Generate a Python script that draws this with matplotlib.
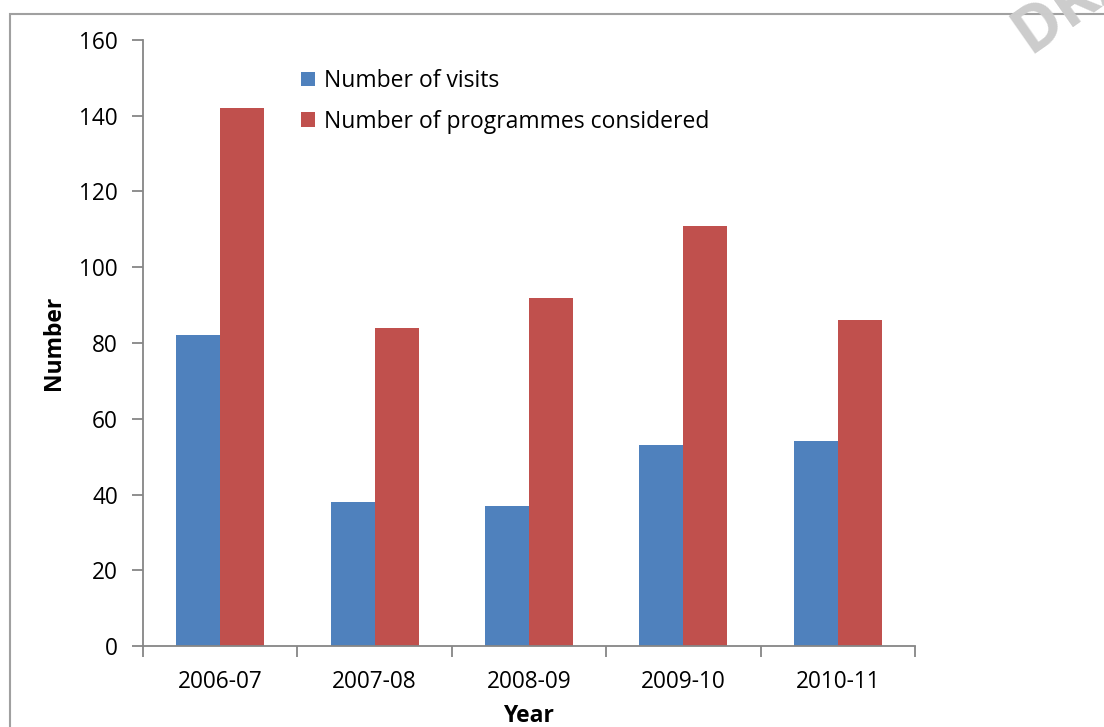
import numpy as np
import matplotlib.pyplot as plt
from matplotlib.patches import Rectangle

# Data
years = ['2006-07', '2007-08', '2008-09', '2009-10', '2010-11']
visits = [82, 38, 37, 53, 54]
programmes = [142, 84, 92, 111, 86]

blue = '#4f81bd'
red = '#c0504d'
grey = '#868686'

plt.rcParams['font.family'] = ['Open Sans', 'DejaVu Sans']

fig = plt.figure(figsize=(11.04, 7.27), dpi=100)
ax = fig.add_axes([0.1295, 0.1114, 0.6993, 0.8336])

x = np.arange(len(years))
w = 0.285
ax.bar(x - w / 2, visits, w, color=blue, label='Number of visits')
ax.bar(x + w / 2, programmes, w, color=red, label='Number of programmes considered')

ax.set_xlim(-0.5, len(years) - 0.5)
ax.set_ylim(0, 160)
ax.set_yticks(range(0, 161, 20))
ax.set_xticks(x)
ax.set_xticklabels(years)
ax.set_xticks(np.arange(-0.5, len(years)), minor=True)
ax.tick_params(axis='x', which='major', length=0, pad=17, labelsize=16.3)
ax.tick_params(axis='x', which='minor', length=8, width=1.3, color=grey)
ax.tick_params(axis='y', length=8, width=1.3, color=grey, pad=10, labelsize=16.3)

for s in ['top', 'right']:
    ax.spines[s].set_visible(False)
for s in ['left', 'bottom']:
    ax.spines[s].set_color(grey)
    ax.spines[s].set_linewidth(1.3)

ax.set_ylabel('Number', fontsize=16.5, fontweight='bold', va='center')
ax.yaxis.set_label_coords(-0.1153, 0.5)
ax.set_xlabel('Year', fontsize=16.5, fontweight='bold', va='center')
ax.xaxis.set_label_coords(0.5, -0.115)

ax.legend(loc='upper left', bbox_to_anchor=(0.2047, 0.952), frameon=False,
          fontsize=16.5, handlelength=0.62, handleheight=0.62,
          handletextpad=0.4, labelspacing=0.72, borderpad=0,
          borderaxespad=0)

# outer frame of the chart area
fig.patches.append(Rectangle((10 / 1104, -0.1), 1.2, 1.1 - 14 / 727,
                             transform=fig.transFigure, fill=False,
                             edgecolor='#a0a0a0', linewidth=1.5))

# faint watermark cut off at the top right
fig.text(1.0, 1.025, 'DRAFT', fontsize=46, color='#cccccc', rotation=35,
         ha='center', va='center', fontweight='bold')

fig.savefig('out.png', dpi=100)
